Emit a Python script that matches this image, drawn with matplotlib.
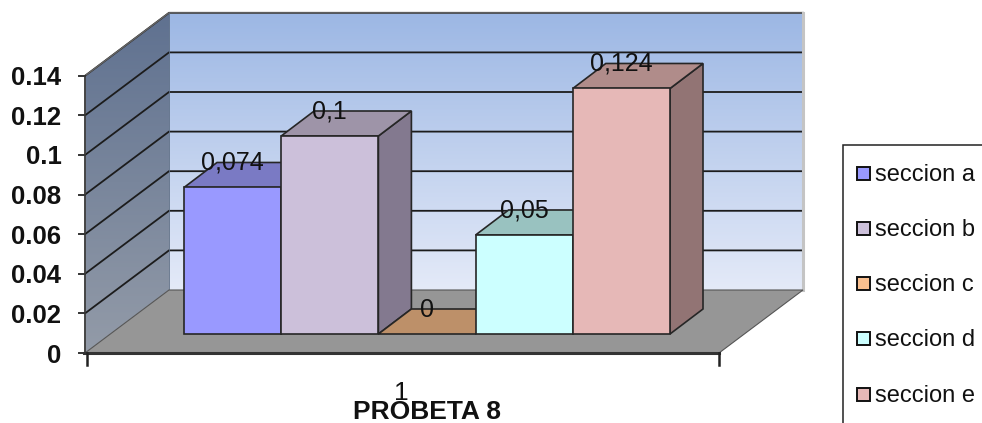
import matplotlib
matplotlib.use('Agg')
import matplotlib.pyplot as plt
from matplotlib.patches import Polygon, Rectangle
import numpy as np

# ── DATA ─────────────────────────────────────────────────────────────────────
SECTIONS = ['seccion a', 'seccion b', 'seccion c', 'seccion d', 'seccion e']
VALUES = [0.074, 0.1, 0, 0.05, 0.124]
VALUE_LABELS = ['0,074', '0,1', '0', '0,05', '0,124']
Y_TICKS = [0, 0.02, 0.04, 0.06, 0.08, 0.1, 0.12, 0.14]
Y_TICK_LABELS = ['0', '0.02', '0.04', '0.06', '0.08', '0.1', '0.12', '0.14']

# ── THEME ────────────────────────────────────────────────────────────────────
FRONT = ['#9999ff', '#ccc0da', '#fac090', '#ccffff', '#e6b8b7']
TOP   = ['#7a7ac4', '#9e94a8', '#bd9069', '#99c2c0', '#b08c8a']
SIDE  = ['#6b6bb0', '#83798f', '#a87f5c', '#85a8a8', '#927474']
INK   = '#262626'
FLOOR = '#969696'

plt.rcParams['font.family'] = ['Liberation Sans', 'DejaVu Sans']

# x runs in bar widths from the first bar, y runs in chart value
BAR_W = 97.2     # pixels per bar
V_SCALE = 1980   # pixels per unit of value
W, H = 982, 423


def px(p):
    return (p - 184) / BAR_W


def py(p):
    return (353 - p) / V_SCALE


fig = plt.figure(figsize=(W / 100, H / 100), dpi=100, facecolor='white')
ax = fig.add_axes([0, 0, 1, 1])

# chart box corners and depth offsets
LEFT, RIGHT = px(85), px(719)
WALL_DX, WALL_DY = 84 / BAR_W, 63 / V_SCALE
BACK_RIGHT = px(803)
TOP_V = Y_TICKS[-1]
BAR_BASE = py(334)
BAR_DX, BAR_DY = 33 / BAR_W, 25 / V_SCALE


def gradient(c_top, c_bottom, extent, clip=None):
    a = np.array(matplotlib.colors.to_rgb(c_top))
    b = np.array(matplotlib.colors.to_rgb(c_bottom))
    t = np.linspace(0, 1, 256)[:, None, None]
    img = a[None, None, :] * (1 - t) + b[None, None, :] * t
    im = ax.imshow(img, extent=extent, aspect='auto', origin='upper',
                   zorder=1, interpolation='bilinear')
    if clip is not None:
        im.set_clip_path(clip)


# back wall
gradient('#9cb7e4', '#e4eaf8',
         (LEFT + WALL_DX, BACK_RIGHT, WALL_DY, TOP_V + WALL_DY))
# side wall
side_pts = [(LEFT, 0), (LEFT + WALL_DX, WALL_DY),
            (LEFT + WALL_DX, TOP_V + WALL_DY), (LEFT, TOP_V)]
side_wall = Polygon(side_pts, closed=True, fc='none', ec='none', zorder=1,
                    transform=ax.transData)
ax.add_patch(side_wall)
gradient('#5f7190', '#939ba8',
         (LEFT, LEFT + WALL_DX, 0, TOP_V + WALL_DY), clip=side_wall)

# gridlines run along the side wall then across the back wall
for v in Y_TICKS:
    if v == 0:
        continue
    ax.plot([LEFT, LEFT + WALL_DX, BACK_RIGHT],
            [v, v + WALL_DY, v + WALL_DY],
            color='#1c1c1c', lw=1.3, zorder=2, solid_joinstyle='miter')
ax.plot([LEFT, LEFT + WALL_DX, BACK_RIGHT],
        [TOP_V, TOP_V + WALL_DY, TOP_V + WALL_DY],
        color='#666666', lw=1.0, zorder=2)
ax.plot([BACK_RIGHT, BACK_RIGHT], [WALL_DY, TOP_V + WALL_DY],
        color='#c4c4c4', lw=2.2, zorder=2)
ax.plot([LEFT + WALL_DX, LEFT + WALL_DX], [WALL_DY, TOP_V + WALL_DY],
        color='#5a6a80', lw=0.6, zorder=2)

# floor
ax.add_patch(Polygon([(LEFT, 0), (LEFT + WALL_DX, WALL_DY),
                      (BACK_RIGHT, WALL_DY), (RIGHT, 0)], closed=True,
                     fc=FLOOR, ec='#555555', lw=0.8, zorder=3))

# bars, left to right so each one covers the side of the previous one
x_pos = np.arange(len(VALUES))
for i, val in zip(x_pos, VALUES):
    z = 4 + i
    top_y = BAR_BASE + val
    if val > 0:
        ax.add_patch(Polygon([(i + 1, BAR_BASE), (i + 1 + BAR_DX, BAR_BASE + BAR_DY),
                              (i + 1 + BAR_DX, top_y + BAR_DY), (i + 1, top_y)],
                             closed=True, fc=SIDE[i], ec=INK, lw=1.2, zorder=z))
    ax.add_patch(Polygon([(i, top_y), (i + BAR_DX, top_y + BAR_DY),
                          (i + 1 + BAR_DX, top_y + BAR_DY), (i + 1, top_y)],
                         closed=True, fc=TOP[i], ec=INK, lw=1.2, zorder=z))
    if val > 0:
        ax.bar(i, val, width=1, bottom=BAR_BASE, align='edge', color=FRONT[i],
               edgecolor=INK, linewidth=1.2, zorder=z)

for i, val, lab in zip(x_pos, VALUES, VALUE_LABELS):
    ax.text(i + 0.5, BAR_BASE + val + 24.5 / V_SCALE, lab, ha='center',
            va='center', fontsize=18, color='#111111', zorder=20)

# axes lines and ticks
ax.plot([LEFT, LEFT], [0, TOP_V], color='#444444', lw=1.4, zorder=9)
ax.plot([LEFT - 0.01, RIGHT], [0, 0], color='#333333', lw=2.2, zorder=9)
for v, lab in zip(Y_TICKS, Y_TICK_LABELS):
    ax.plot([px(79), LEFT], [v, v], color='#333333', lw=1.4, zorder=9)
    ax.text(px(61.5), v - 2.5 / V_SCALE, lab, ha='right', va='center',
            fontsize=18.5, fontweight='bold', color='#111111')
for xt in (px(87), RIGHT):
    ax.plot([xt, xt], [0, py(365)], color='#222222', lw=1.8, zorder=9)

ax.text(px(401), py(393), '1', ha='center', va='center', fontsize=19, color='#111111')
ax.text(px(427), py(412), 'PROBETA 8', ha='center', va='center',
        fontsize=19, fontweight='bold', color='#111111', zorder=21)

# legend box runs off the right and bottom of the figure
ax.add_patch(Rectangle((px(843), py(440)), px(1000) - px(843), py(145) - py(440),
                       fc='white', ec='#222222', lw=1.1, zorder=10))
leg_y = [173, 228, 283, 338, 394]
for name, col, yy in zip(SECTIONS, FRONT, leg_y):
    ax.add_patch(Rectangle((px(857), py(yy + 6.5)), 13 / BAR_W, 13 / V_SCALE,
                           fc=col, ec='#111111', lw=1.4, zorder=11))
    ax.text(px(875), py(yy + 1.5), name, ha='left', va='center', fontsize=17,
            color='#111111', zorder=11)

ax.set_xlim(px(0), px(W))
ax.set_ylim(py(H), py(0))
ax.axis('off')

fig.savefig('out.png', dpi=100, facecolor='white')
